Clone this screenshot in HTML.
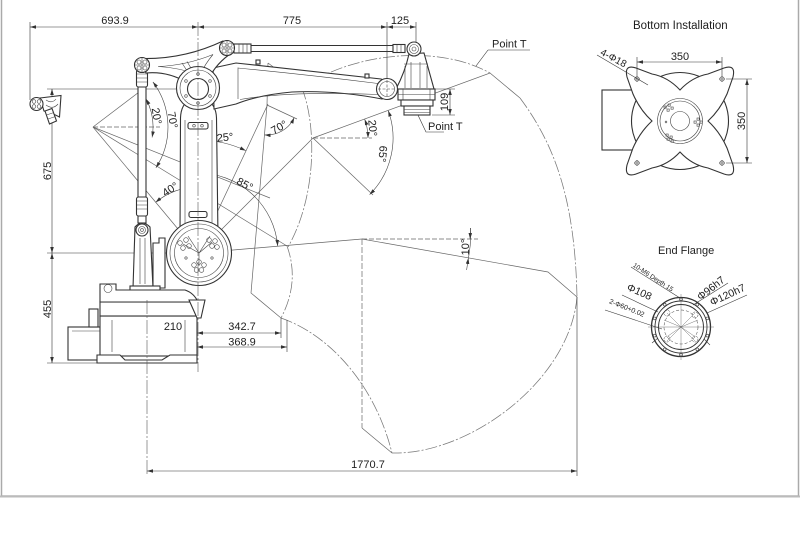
<!DOCTYPE html>
<html><head><meta charset="utf-8"><style>
html,body{margin:0;padding:0;background:#fff;}
svg{display:block;}
text{font-family:"Liberation Sans",Arial,sans-serif;fill:#1e1e1e;}
.r{fill:#fff;stroke:#333;stroke-width:1.1;}
.t{fill:none;stroke:#444;stroke-width:0.6;}
</style></head><body>
<svg width="800" height="549" viewBox="0 0 800 549" xmlns="http://www.w3.org/2000/svg">
<defs>
<marker id="a" viewBox="0 0 10 6" refX="10" refY="3" markerWidth="6" markerHeight="3.6" markerUnits="userSpaceOnUse" orient="auto-start-reverse"><path d="M0,0L10,3L0,6z" fill="#333"/></marker>
</defs>
<rect width="800" height="549" fill="#fff"/>
<!-- frame -->
<path d="M1.5,0V496H798.5V0" fill="none" stroke="#aaa" stroke-width="1.5"/>
<path d="M0,496.5H800" stroke="#bbb" stroke-width="2"/>

<!-- envelope lines -->
<g fill="none" stroke="#666" stroke-width="0.7">
 <path d="M93,127 L147,86"/>
 <path d="M93,127 L287,246"/>
 <path d="M93,127 L270,198"/>
 <path d="M93,127 L198,253"/>
 <path d="M93,127 H160" stroke-dasharray="5,2"/>
 <path d="M198,253 L268,104"/>
 <path d="M198,253 L313,138"/>
 <path d="M198,253 L362,239"/>
 <path d="M267,105 L251,293 L281,318"/>
 <path d="M267,105 L297,119"/>
 <path d="M268,63 L267,105 M268,63 L303,89"/>
 <path d="M313,138 L490,73 L520,98"/>
 <path d="M313,138 L373,195"/>
 <path d="M313,138 H372" stroke-dasharray="5,2"/>
 <path d="M362,239 L548,272 L577,297"/>
 <path d="M362,239 H478" stroke-dasharray="5,2"/>
 <path d="M362,239 V428" stroke-dasharray="6,2"/>
 <path d="M362,428 L392,453"/>
</g>
<g fill="none" stroke="#777" stroke-width="0.75" stroke-dasharray="12,2,2,2">
 <path d="M300,90 C340,58 430,40 490,73"/>
 <path d="M520,98 C555,145 575,200 577,297"/>
 <path d="M577,297 C570,380 470,455 392,453"/>
 <path d="M281,318 C330,335 375,385 392,453"/>
 <path d="M302,88 C318,130 315,200 288,247"/>
 <path d="M287,246 Q300,282 281,318"/>
</g>

<!-- angle arcs -->
<g fill="none" stroke="#444" stroke-width="0.6">
 <path d="M146,98.8 A60,60 0 0 1 152.1,137.4" marker-start="url(#a)" marker-end="url(#a)"/>
 <path d="M152.9,81.9 A75,75 0 0 1 155.9,167.8" marker-start="url(#a)" marker-end="url(#a)"/>
 <path d="M198,140 A113,113 0 0 1 245.8,150.6" marker-start="url(#a)" marker-end="url(#a)"/>
 <path d="M198,173 A80,80 0 0 1 277.7,246" marker-start="url(#a)" marker-end="url(#a)"/>
 <path d="M198,187 A66,66 0 0 0 155.6,202.4" marker-start="url(#a)" marker-end="url(#a)"/>
 <path d="M264.6,134.9 A30,30 0 0 0 294.2,117.6" marker-start="url(#a)" marker-end="url(#a)"/>
 <path d="M368,138 A55,55 0 0 0 364.7,119.2" marker-start="url(#a)" marker-end="url(#a)"/>
 <path d="M388.2,110.6 A80,80 0 0 1 369.6,194.6" marker-start="url(#a)" marker-end="url(#a)"/>
 <path d="M470.3,228 A108,108 0 0 1 468.4,257.8"/>
 <path d="M470.5,228 L470.1,239" marker-end="url(#a)"/>
 <path d="M466.6,270 L468.4,258" marker-end="url(#a)"/>
</g>

<!-- dimensions -->
<g fill="none" stroke="#333" stroke-width="0.6">
 <path d="M30,22 V100 M387,22 V80 M416,22 V44"/>
 <path d="M30,27 H198" marker-start="url(#a)" marker-end="url(#a)"/>
 <path d="M198,27 H387" marker-start="url(#a)" marker-end="url(#a)"/>
 <path d="M387,27 H416" marker-start="url(#a)" marker-end="url(#a)"/>
 <path d="M47,89 H455 M47,253 H232 M47,363 H97"/>
 <path d="M52,89 V253" marker-start="url(#a)" marker-end="url(#a)"/>
 <path d="M52,253 V363" marker-start="url(#a)" marker-end="url(#a)"/>
 <path d="M432,115 H455"/>
 <path d="M450,89 V115" marker-start="url(#a)" marker-end="url(#a)"/>
 <path d="M147,333 H197" marker-start="url(#a)" marker-end="url(#a)"/>
 <path d="M197,333 H281" marker-start="url(#a)" marker-end="url(#a)"/>
 <path d="M197,347 H287" marker-start="url(#a)" marker-end="url(#a)"/>
 <path d="M281,318 V338 M287,320 V352 M197,300 V352"/>
 <path d="M147,471 H577" marker-start="url(#a)" marker-end="url(#a)"/>
 <path d="M577,297 V476"/>
 <path d="M488,50 H530 M488,50 L476,66"/>
 <path d="M417,113 L426,132 H444"/>
</g>

<!-- robot -->
<g>
 <rect x="138" y="73" width="8" height="150" class="r" stroke-width="0.9"/>
 <rect x="136.5" y="70" width="11" height="17" rx="2" class="r"/>
 <path d="M137,74H147M137,78H147M137,82H147" class="t"/>
 <rect x="136.5" y="197" width="11" height="19" rx="2" class="r"/>
 <path d="M137,201H147M137,205H147M137,209H147" class="t"/>
 <path d="M153,243 H159 V238 H165 V288 H153 Z" class="r"/>
 <path d="M135,227 Q142,219 150,227 L153,288 L133,288 Z" class="r"/>
 <path d="M140,238 V284 M145,238 V284" class="t"/>
 <rect x="130" y="286" width="30" height="5" class="r"/>
 <circle cx="142" cy="230" r="6" class="r"/>
 <circle cx="142" cy="230" r="3.5" class="t"/>
 <circle cx="142" cy="230" r="1.4" class="t"/>
 <rect x="68" y="327" width="44" height="33" class="r"/>
 <path d="M103,330 V358 M72,331 H108" class="t"/>
 <rect x="89" y="309" width="9" height="18" class="r"/>
 <rect x="100" y="316" width="97" height="40" class="r"/>
 <path d="M97,363 H197 V355 H170 L162,360 H125 L120,355 H97 Z" class="r"/>
 <path d="M112,320 V352 M185,320 V352" class="t"/>
 <rect x="100" y="302" width="98" height="14" class="r"/>
 <path d="M100,284 L116,284 L116,290 L185,290 Q194,293 198,302 L100,302 Z" class="r"/>
 <circle cx="108" cy="288.5" r="4" class="t" stroke-width="0.9"/>
 <path d="M189,300 L205,300 L201,318 L197,318 Z" class="r"/>
 <path d="M180,238 L180.5,118 Q181,104 190,100 L206,100 Q216,104 216.5,118 L218,238 Z" class="r"/>
 <path d="M185,120 V232 M212,120 V232" class="t"/>
 <rect x="188" y="122.5" width="20" height="6.5" rx="2" class="r" stroke-width="0.9"/>
 <circle cx="194" cy="125.7" r="1.3" class="t"/><circle cx="202" cy="125.7" r="1.3" class="t"/>
 <rect x="189" y="211.5" width="18" height="6" rx="2" class="r" stroke-width="0.9"/>
 <circle cx="199" cy="253" r="32.5" class="r" stroke-width="1.3"/>
 <circle cx="199" cy="253" r="29" class="t" stroke-width="0.9"/>
 <circle cx="199" cy="253" r="24.5" class="t"/>
 <path d="M199,253 L183,244 M199,253 L212,242 M199,253 L199,266 M199,253 L188,236 M199,253 L210,236" class="t" stroke-width="0.4"/>
 <g class="t" stroke-width="0.7">
  <circle cx="180" cy="243" r="2.3"/><circle cx="186" cy="240" r="2.3"/><circle cx="183" cy="248" r="2.3"/><circle cx="189" cy="246" r="2.3"/>
  <circle cx="209" cy="240" r="2.3"/><circle cx="215" cy="241" r="2.3"/><circle cx="212" cy="246" r="2.3"/><circle cx="217" cy="247" r="2.3"/>
  <circle cx="194" cy="265" r="2.3"/><circle cx="199" cy="262" r="2.3"/><circle cx="204" cy="265" r="2.3"/><circle cx="196.5" cy="270" r="2.3"/><circle cx="201.5" cy="270" r="2.3"/>
  <circle cx="186" cy="258" r="1.2"/><circle cx="212" cy="258" r="1.2"/>
 </g>
 <path d="M213,68 L236,63 Q310,71 381,79 A11,11 0 0 1 382,99 Q335,90 292,92 Q258,95 236,104 L214,109 Z" class="r"/>
 <path d="M238,67.5 V99 M238,68 Q310,75 378,83.5 M240,99.5 Q290,91 378,94.5" class="t"/>
 <rect x="256" y="60" width="4" height="4" class="r" stroke-width="0.7"/>
 <rect x="365" y="74" width="4" height="4" class="r" stroke-width="0.7"/>
 <path d="M139,58.5 Q183,60 223,41 L233,52 Q216,63 208,80 L188,83 Q168,71 146,73 Z" class="r"/>
 <path d="M158,66.5 Q186,65.5 213,54.5 Q205,64 200,75 Q178,67.5 158,66.5 Z" class="t" stroke-width="0.8"/>
 <path d="M182,63 L193,80 M187,61.5 L197,78" class="t" stroke-width="0.8"/>
 <circle cx="198" cy="88" r="21.5" class="r" stroke-width="1.3"/>
 <circle cx="198" cy="88" r="18" class="t" stroke-width="0.8"/>
 <circle cx="198" cy="89" r="10.5" class="r" stroke-width="1"/>
 <g class="t"><circle cx="198" cy="74" r="1.3"/><circle cx="210" cy="81" r="1.3"/><circle cx="210" cy="96" r="1.3"/><circle cx="198" cy="103" r="1.3"/><circle cx="186" cy="96" r="1.3"/><circle cx="186" cy="81" r="1.3"/></g>
 <path d="M234,45.5 H404 M234,51.5 H404" stroke="#333" stroke-width="0.9"/>
 <rect x="234" y="44" width="17" height="9" class="r"/>
 <path d="M239,44V53M243,44V53M247,44V53" class="t"/>
 <rect x="393" y="44.5" width="12" height="8" class="r"/>
 <path d="M397,44.5V52.5M401,44.5V52.5" class="t"/>
 <path d="M409,54 Q405,72 396,89 L434,89 L424,53 Z" class="r"/>
 <path d="M405,66 V88 M411,62 V88 M420,62 V88 M427,66 V88 M404,64 H428" class="t"/>
 <rect x="398" y="89" width="37" height="11" class="r"/>
 <path d="M403,89V100M430,89V100M398,94.5H435" class="t"/>
 <rect x="401" y="100" width="32" height="6" class="r"/>
 <rect x="404" y="106" width="26" height="9" class="r"/>
 <path d="M404,109.5H430M404,112.5H430" class="t"/>
 <circle cx="414" cy="49" r="7" class="r" stroke-width="1.2"/>
 <circle cx="414" cy="49" r="4.5" class="t"/>
 <circle cx="414" cy="49" r="2" class="t"/>
 <circle cx="387" cy="89" r="10.5" class="r" stroke-width="1.2"/>
 <circle cx="387" cy="89" r="7.5" class="t"/>
 <path d="M378,89H396M387,80V98" class="t" stroke-dasharray="3,1.5"/>
 <circle cx="142" cy="65" r="7.5" class="r" stroke-width="1.3"/>
 <path d="M135,65H149M142,58V72" class="t"/>
 <g class="t" stroke-width="0.7"><circle cx="139" cy="62" r="2"/><circle cx="145" cy="62" r="2"/><circle cx="139" cy="68" r="2"/><circle cx="145" cy="68" r="2"/></g>
 <circle cx="227" cy="48" r="7.5" class="r" stroke-width="1.3"/>
 <path d="M220,48H234M227,41V55" class="t"/>
 <g class="t" stroke-width="0.7"><circle cx="224" cy="45" r="2"/><circle cx="230" cy="45" r="2"/><circle cx="224" cy="51" r="2"/><circle cx="230" cy="51" r="2"/></g>
 <path d="M40,98 L61,95.5 L59.5,117 Q52,113 44,111 Z" class="r"/>
 <path d="M46,100 Q52,104 56,99 M46,105 Q53,110 58,104" class="t"/>
 <path d="M45,111 L52,108.5 L56.5,121 L49.5,124 Z" class="r"/>
 <path d="M46.5,115 L54,112.5 M48,119 L55.5,116.5" class="t"/>
 <circle cx="36.5" cy="104" r="6.5" class="r" stroke-width="1.3"/>
 <g class="t" stroke-width="0.7"><circle cx="34" cy="101.5" r="1.8"/><circle cx="39" cy="101.5" r="1.8"/><circle cx="34" cy="106.5" r="1.8"/><circle cx="39" cy="106.5" r="1.8"/></g>
</g>

<path d="M198,22 V372" stroke="#555" stroke-width="0.6" stroke-dasharray="14,2,2,2" fill="none"/>
<path d="M147,300 V476" stroke="#555" stroke-width="0.6" stroke-dasharray="14,2,2,2" fill="none"/>

<g font-size="11" text-anchor="middle">
 <text x="115" y="24">693.9</text>
 <text x="292" y="24">775</text>
 <text x="400" y="24">125</text>
 <text transform="translate(51,171) rotate(-90)">675</text>
 <text transform="translate(51,309) rotate(-90)">455</text>
 <text transform="translate(448,102) rotate(-90)">109</text>
 <text x="173" y="330">210</text>
 <text x="242" y="330">342.7</text>
 <text x="242" y="345.5">368.9</text>
 <text x="368" y="468">1770.7</text>
 <text transform="translate(157,116) rotate(80)" y="4">20°</text>
 <text transform="translate(173,120) rotate(80)" y="4">70°</text>
 <text transform="translate(225,137) rotate(-5)" y="4">25°</text>
 <text transform="translate(170,189) rotate(-33)" y="4">40°</text>
 <text transform="translate(245,184) rotate(28)" y="4">85°</text>
 <text transform="translate(279,127) rotate(-30)" y="4">70°</text>
 <text transform="translate(373,128) rotate(85)" y="4">20°</text>
 <text transform="translate(383,154) rotate(95)" y="4">65°</text>
 <text transform="translate(465,247) rotate(-90)" y="4">10°</text>
</g>
<g font-size="11">
 <text x="492" y="47.5">Point T</text>
 <text x="428" y="130">Point T</text>
</g>

<!-- Bottom Installation -->
<text x="633" y="29" font-size="11.5">Bottom Installation</text>
<rect x="602" y="90" width="40" height="60" class="r"/>
<circle cx="680" cy="121" r="48.5" class="r"/>
<path d="M680,90 Q668,77 652,74 L636,68 Q624,64 627,77 L633,94 Q640,110 652,121 Q640,132 633,148 L627,165 Q624,178 636,174 L652,168 Q668,165 680,152 Q692,165 708,168 L724,174 Q736,178 733,165 L727,148 Q720,132 708,121 Q720,110 727,94 L733,77 Q736,64 724,68 L708,74 Q692,77 680,90 Z" class="r"/>
<circle cx="680" cy="121" r="22.5" class="t" stroke-width="1"/>
<circle cx="680" cy="121" r="20" class="t"/>
<circle cx="680" cy="121" r="9.5" class="t" stroke-width="0.9"/>
<g class="t" stroke-width="0.6">
 <path d="M634,79H640M637,76V82M719,79H725M722,76V82M634,163H640M637,160V166M719,163H725M722,160V166"/>
 <circle cx="637" cy="79" r="2.2"/><circle cx="722" cy="79" r="2.2"/><circle cx="637" cy="163" r="2.2"/><circle cx="722" cy="163" r="2.2"/>
 <rect x="664" y="106" width="2.2" height="2.2"/><rect x="668" y="104" width="2.2" height="2.2"/><rect x="667" y="109" width="2.2" height="2.2"/><rect x="671" y="107" width="2.2" height="2.2"/>
 <rect x="697" y="118" width="2.2" height="2.2"/><rect x="700" y="121" width="2.2" height="2.2"/><rect x="697" y="124" width="2.2" height="2.2"/><rect x="694" y="121" width="2.2" height="2.2"/>
 <rect x="666" y="134" width="2.2" height="2.2"/><rect x="670" y="136" width="2.2" height="2.2"/><rect x="667" y="138" width="2.2" height="2.2"/><rect x="671" y="140" width="2.2" height="2.2"/>
 <circle cx="666" cy="122" r="0.9"/>
</g>
<g fill="none" stroke="#333" stroke-width="0.6">
 <path d="M637,57 V76 M722,57 V76"/>
 <path d="M637,62 H722" marker-start="url(#a)" marker-end="url(#a)"/>
 <path d="M726,79 H752 M726,163 H752"/>
 <path d="M747,79 V163" marker-start="url(#a)" marker-end="url(#a)"/>
 <path d="M597,55 L648,85"/>
</g>
<text x="680" y="60" font-size="11" text-anchor="middle">350</text>
<text transform="translate(745,121) rotate(-90)" font-size="11" text-anchor="middle">350</text>
<text transform="translate(612,61) rotate(28)" font-size="10" text-anchor="middle">4-Φ18</text>

<!-- End Flange -->
<text x="658" y="254" font-size="11">End Flange</text>
<g fill="none" stroke="#333">
 <circle cx="681" cy="327" r="29.5" fill="#fff" stroke-width="1.3"/>
 <circle cx="681" cy="327" r="26" stroke-width="0.9"/>
 <circle cx="681" cy="327" r="22.5" stroke-width="0.9"/>
 <circle cx="681" cy="327" r="17" stroke-width="0.5" stroke-dasharray="3,2"/>
 <g stroke-width="0.6">
  <circle cx="681" cy="299.3" r="1.4"/><circle cx="697.3" cy="304.6" r="1.4"/><circle cx="707.3" cy="318.4" r="1.4"/><circle cx="707.3" cy="335.6" r="1.4"/><circle cx="697.3" cy="349.4" r="1.4"/><circle cx="681" cy="354.7" r="1.4"/><circle cx="664.7" cy="349.4" r="1.4"/><circle cx="654.7" cy="335.6" r="1.4"/><circle cx="654.7" cy="318.4" r="1.4"/><circle cx="664.7" cy="304.6" r="1.4"/>
 </g>
 <g stroke-width="0.5" stroke-dasharray="2,1">
  <circle cx="667" cy="313" r="3"/><circle cx="695" cy="315" r="3"/><circle cx="667" cy="339" r="3"/><circle cx="695" cy="339" r="3"/>
 </g>
 <path d="M648,327H714M681,294V360M667,313L695,341M695,313L667,341M681,327L664,320M681,327L698,320M681,327L668,336M681,327L694,336" stroke-width="0.4" stroke="#555"/>
 <g stroke-width="0.55">
  <path d="M631,267 L680,298"/>
  <path d="M622,295 L658,312"/>
  <path d="M605,310 L662,329"/>
  <path d="M693,305 L728,283"/>
  <path d="M707,313 L747,295"/>
  <path d="M652,343 L658,338 M710,345 L704,339"/>
 </g>
</g>
<text transform="translate(652,279) rotate(33)" font-size="6.5" text-anchor="middle">10-M6 Depth 15</text>
<text transform="translate(638,295) rotate(24)" font-size="10.5" text-anchor="middle">Φ108</text>
<text transform="translate(626,310) rotate(22)" font-size="7" text-anchor="middle">2-Φ60+0.02</text>
<text transform="translate(713,291) rotate(-38)" font-size="10.5" text-anchor="middle">Φ96h7</text>
<text transform="translate(729,298) rotate(-25)" font-size="10.5" text-anchor="middle">Φ120h7</text>
</svg>
</body></html>
